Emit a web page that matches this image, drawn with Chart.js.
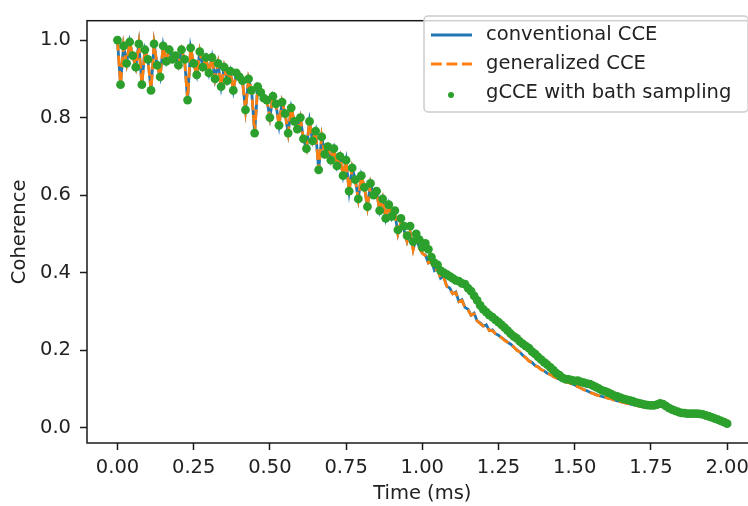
<!DOCTYPE html>
<html>
<head>
<meta charset="utf-8">
<script src="https://cdn.jsdelivr.net/npm/chart.js@4.4.1/dist/chart.umd.min.js"></script>
<style>
  html, body { margin: 0; padding: 0; background: #fff; overflow: hidden; }
  #wrap { width: 762px; height: 506px; }
</style>
</head>
<body>
<div id="wrap"><canvas id="chart" width="762" height="506"></canvas></div>
<script>
'use strict';

let times = [
  0.00, 0.01, 0.02, 0.03, 0.04, 0.05, 0.06, 0.07, 0.08, 0.09,
  0.10, 0.11, 0.12, 0.13, 0.14, 0.15, 0.16, 0.17, 0.18, 0.19,
  0.20, 0.21, 0.22, 0.23, 0.24, 0.25, 0.26, 0.27, 0.28, 0.29,
  0.30, 0.31, 0.32, 0.33, 0.34, 0.35, 0.36, 0.37, 0.38, 0.39,
  0.40, 0.41, 0.42, 0.43, 0.44, 0.45, 0.46, 0.47, 0.48, 0.49,
  0.50, 0.51, 0.52, 0.53, 0.54, 0.55, 0.56, 0.57, 0.58, 0.59,
  0.60, 0.61, 0.62, 0.63, 0.64, 0.65, 0.66, 0.67, 0.68, 0.69,
  0.70, 0.71, 0.72, 0.73, 0.74, 0.75, 0.76, 0.77, 0.78, 0.79,
  0.80, 0.81, 0.82, 0.83, 0.84, 0.85, 0.86, 0.87, 0.88, 0.89,
  0.90, 0.91, 0.92, 0.93, 0.94, 0.95, 0.96, 0.97, 0.98, 0.99,
  1.00, 1.01, 1.02, 1.03, 1.04, 1.05, 1.06, 1.07, 1.08, 1.09,
  1.10, 1.11, 1.12, 1.13, 1.14, 1.15, 1.16, 1.17, 1.18, 1.19,
  1.20, 1.21, 1.22, 1.23, 1.24, 1.25, 1.26, 1.27, 1.28, 1.29,
  1.30, 1.31, 1.32, 1.33, 1.34, 1.35, 1.36, 1.37, 1.38, 1.39,
  1.40, 1.41, 1.42, 1.43, 1.44, 1.45, 1.46, 1.47, 1.48, 1.49,
  1.50, 1.51, 1.52, 1.53, 1.54, 1.55, 1.56, 1.57, 1.58, 1.59,
  1.60, 1.61, 1.62, 1.63, 1.64, 1.65, 1.66, 1.67, 1.68, 1.69,
  1.70, 1.71, 1.72, 1.73, 1.74, 1.75, 1.76, 1.77, 1.78, 1.79,
  1.80, 1.81, 1.82, 1.83, 1.84, 1.85, 1.86, 1.87, 1.88, 1.89,
  1.90, 1.91, 1.92, 1.93, 1.94, 1.95, 1.96, 1.97, 1.98, 1.99,
  2.00
];

let conventionalCCE = [
  1.000, 0.885, 0.985, 0.940, 0.995, 0.960, 0.930, 0.990, 0.885, 0.975,
  0.950, 0.870, 0.990, 0.935, 0.905, 0.985, 0.945, 0.975, 0.950, 0.960,
  0.935, 0.975, 0.950, 0.845, 0.980, 0.940, 0.910, 0.970, 0.930, 0.955,
  0.915, 0.955, 0.900, 0.940, 0.880, 0.930, 0.895, 0.920, 0.870, 0.915,
  0.905, 0.895, 0.820, 0.900, 0.870, 0.760, 0.880, 0.865, 0.850, 0.845,
  0.800, 0.855, 0.835, 0.780, 0.840, 0.810, 0.760, 0.825, 0.790, 0.770,
  0.800, 0.745, 0.720, 0.790, 0.740, 0.765, 0.665, 0.750, 0.705, 0.725,
  0.690, 0.720, 0.675, 0.700, 0.650, 0.690, 0.610, 0.670, 0.640, 0.590,
  0.650, 0.620, 0.570, 0.630, 0.600, 0.610, 0.560, 0.590, 0.540, 0.575,
  0.540, 0.555, 0.500, 0.530, 0.510, 0.480, 0.505, 0.460, 0.490, 0.465,
  0.450, 0.445, 0.425, 0.430, 0.405, 0.410, 0.385, 0.390, 0.365, 0.360,
  0.345, 0.350, 0.325, 0.330, 0.310, 0.305, 0.290, 0.295, 0.275, 0.270,
  0.262, 0.265, 0.250, 0.252, 0.242, 0.238, 0.232, 0.226, 0.220, 0.215,
  0.208, 0.200, 0.195, 0.186, 0.180, 0.172, 0.168, 0.160, 0.156, 0.150,
  0.146, 0.140, 0.137, 0.132, 0.128, 0.125, 0.122, 0.118, 0.116, 0.113,
  0.110, 0.106, 0.102, 0.098, 0.095, 0.091, 0.088, 0.085, 0.082, 0.080,
  0.078, 0.076, 0.074, 0.071, 0.069, 0.067, 0.065, 0.063, 0.061, 0.059,
  0.058, 0.056, 0.054, 0.053, 0.052, 0.052, 0.053, 0.055, 0.057, 0.055,
  0.051, 0.047, 0.043, 0.040, 0.037, 0.035, 0.034, 0.033, 0.033, 0.033,
  0.033, 0.032, 0.031, 0.029, 0.027, 0.024, 0.021, 0.018, 0.015, 0.012,
  0.009
];

let generalizedCCE = [
  1.000, 0.885, 0.985, 0.940, 0.995, 0.960, 0.930, 0.990, 0.885, 0.975,
  0.950, 0.870, 0.990, 0.935, 0.905, 0.985, 0.945, 0.975, 0.950, 0.960,
  0.935, 0.975, 0.950, 0.845, 0.980, 0.940, 0.910, 0.970, 0.930, 0.955,
  0.915, 0.955, 0.900, 0.940, 0.880, 0.930, 0.895, 0.920, 0.870, 0.915,
  0.905, 0.895, 0.820, 0.900, 0.870, 0.760, 0.880, 0.865, 0.850, 0.845,
  0.800, 0.855, 0.835, 0.780, 0.840, 0.810, 0.760, 0.825, 0.790, 0.770,
  0.800, 0.745, 0.720, 0.790, 0.740, 0.765, 0.665, 0.750, 0.705, 0.725,
  0.690, 0.720, 0.675, 0.700, 0.650, 0.690, 0.610, 0.670, 0.640, 0.590,
  0.650, 0.620, 0.570, 0.630, 0.600, 0.610, 0.560, 0.590, 0.540, 0.575,
  0.540, 0.555, 0.500, 0.530, 0.510, 0.480, 0.505, 0.458, 0.490, 0.462,
  0.450, 0.443, 0.425, 0.428, 0.405, 0.408, 0.385, 0.388, 0.365, 0.358,
  0.345, 0.348, 0.325, 0.328, 0.310, 0.303, 0.290, 0.293, 0.275, 0.268,
  0.262, 0.263, 0.250, 0.250, 0.242, 0.236, 0.232, 0.224, 0.220, 0.213,
  0.208, 0.199, 0.195, 0.185, 0.180, 0.171, 0.168, 0.159, 0.156, 0.149,
  0.146, 0.139, 0.137, 0.131, 0.128, 0.124, 0.122, 0.117, 0.116, 0.112,
  0.110, 0.105, 0.102, 0.097, 0.095, 0.090, 0.088, 0.084, 0.082, 0.079,
  0.078, 0.075, 0.074, 0.070, 0.069, 0.066, 0.065, 0.062, 0.061, 0.058,
  0.058, 0.055, 0.054, 0.052, 0.052, 0.051, 0.053, 0.054, 0.057, 0.054,
  0.051, 0.046, 0.043, 0.039, 0.037, 0.034, 0.034, 0.032, 0.033, 0.032,
  0.033, 0.031, 0.031, 0.028, 0.027, 0.023, 0.021, 0.017, 0.015, 0.011,
  0.009
];

let sampledCCE = [
  1.000, 0.885, 0.985, 0.940, 0.995, 0.960, 0.930, 0.990, 0.885, 0.975,
  0.950, 0.870, 0.990, 0.935, 0.905, 0.985, 0.945, 0.975, 0.950, 0.960,
  0.935, 0.975, 0.950, 0.845, 0.980, 0.940, 0.910, 0.970, 0.930, 0.955,
  0.915, 0.955, 0.900, 0.940, 0.880, 0.930, 0.895, 0.920, 0.870, 0.915,
  0.905, 0.895, 0.820, 0.900, 0.870, 0.760, 0.880, 0.865, 0.850, 0.845,
  0.800, 0.855, 0.835, 0.780, 0.840, 0.810, 0.760, 0.825, 0.790, 0.770,
  0.800, 0.745, 0.720, 0.790, 0.740, 0.765, 0.665, 0.750, 0.705, 0.725,
  0.690, 0.720, 0.675, 0.700, 0.650, 0.690, 0.610, 0.670, 0.640, 0.590,
  0.650, 0.620, 0.570, 0.630, 0.600, 0.610, 0.560, 0.590, 0.540, 0.575,
  0.545, 0.560, 0.510, 0.540, 0.520, 0.495, 0.520, 0.480, 0.500, 0.485,
  0.465, 0.475, 0.460, 0.440, 0.425, 0.420, 0.405, 0.400, 0.395, 0.390,
  0.385, 0.380, 0.378, 0.372, 0.370, 0.360, 0.352, 0.340, 0.328, 0.315,
  0.305, 0.298, 0.290, 0.285, 0.278, 0.272, 0.265, 0.258, 0.250, 0.242,
  0.235, 0.230, 0.222, 0.216, 0.210, 0.205, 0.196, 0.190, 0.182, 0.175,
  0.168, 0.162, 0.155, 0.148, 0.140, 0.135, 0.128, 0.125, 0.124, 0.122,
  0.120, 0.121, 0.118, 0.116, 0.113, 0.112, 0.108, 0.104, 0.100, 0.096,
  0.093, 0.090, 0.086, 0.082, 0.080, 0.077, 0.074, 0.072, 0.070, 0.068,
  0.065, 0.063, 0.061, 0.059, 0.058, 0.057, 0.057, 0.059, 0.062, 0.060,
  0.055, 0.050, 0.046, 0.043, 0.040, 0.038, 0.037, 0.036, 0.036, 0.036,
  0.036, 0.035, 0.034, 0.031, 0.029, 0.026, 0.023, 0.020, 0.017, 0.014,
  0.010
];

let xTicks = [0, 0.25, 0.5, 0.75, 1.0, 1.25, 1.5, 1.75, 2.0];
let yTicks = [0, 0.2, 0.4, 0.6, 0.8, 1.0];

let seriesNames = ['conventional CCE', 'generalized CCE', 'gCCE with bath sampling'];

const FONT = 19.5;
const TEXT = '#222222';

Chart.defaults.font.family = "'DejaVu Sans', sans-serif";
Chart.defaults.font.size = FONT;
Chart.defaults.color = TEXT;

function toPoints(values) {
  let pts = [];
  for (let i = 0; i < values.length; i++) {
    pts.push({ x: times[i], y: values[i] });
  }
  return pts;
}

// matplotlib style box around the axes
let framePlugin = {
  id: 'frame',
  afterDatasetsDraw(chart) {
    let a = chart.chartArea;
    let ctx = chart.ctx;
    ctx.save();
    ctx.strokeStyle = '#1a1a1a';
    ctx.lineWidth = 1.5;
    ctx.strokeRect(a.left, a.top, a.right - a.left, a.bottom - a.top);
    ctx.restore();
  }
};

// legend in the upper right corner of the axes
let legendPlugin = {
  id: 'boxLegend',
  afterDraw(chart) {
    let a = chart.chartArea;
    let ctx = chart.ctx;
    let ds = chart.data.datasets;
    let left = 424, top = 16;
    let right = a.right - 9.5, bottom = 112;
    ctx.save();
    ctx.fillStyle = 'rgba(255,255,255,0.8)';
    ctx.strokeStyle = '#cccccc';
    ctx.lineWidth = 1.5;
    ctx.beginPath();
    ctx.roundRect(left, top, right - left, bottom - top, 4);
    ctx.fill();
    ctx.stroke();

    ctx.font = FONT + "px 'DejaVu Sans'";
    ctx.textBaseline = 'middle';
    ctx.fillStyle = TEXT;
    for (let i = 0; i < ds.length; i++) {
      let y = 35 + i * 29;
      let d = ds[i];
      if (d.showLine === false) {
        ctx.fillStyle = d.pointBackgroundColor;
        ctx.beginPath();
        ctx.arc(451, y + 2, 3, 0, Math.PI * 2);
        ctx.fill();
      } else {
        ctx.strokeStyle = d.borderColor;
        ctx.lineWidth = d.borderWidth;
        ctx.setLineDash(d.borderDash || []);
        ctx.beginPath();
        ctx.moveTo(431, y);
        ctx.lineTo(472, y);
        ctx.stroke();
        ctx.setLineDash([]);
      }
      ctx.fillStyle = TEXT;
      ctx.fillText(d.label, 486, y);
    }
    ctx.restore();
  }
};

let chartData = {
  type: 'line',
  data: {
    datasets: [{
      label: seriesNames[0],
      data: toPoints(conventionalCCE),
      borderColor: '#1f77b4',
      borderWidth: 2.8,
      pointRadius: 0,
      tension: 0,
      order: 3
    }, {
      label: seriesNames[1],
      data: toPoints(generalizedCCE),
      borderColor: '#ff7f0e',
      borderWidth: 2.8,
      borderDash: [10.8, 4.7],
      pointRadius: 0,
      tension: 0,
      order: 2
    }, {
      label: seriesNames[2],
      data: toPoints(sampledCCE),
      showLine: false,
      pointRadius: 4.4,
      pointBorderWidth: 0,
      pointBackgroundColor: '#2ca02c',
      pointBorderColor: '#2ca02c',
      order: 1
    }]
  },
  options: {
    responsive: false,
    animation: false,
    devicePixelRatio: 1,
    layout: {
      padding: { left: 0, top: 7, right: 3, bottom: 0 }
    },
    plugins: {
      legend: { display: false },
      tooltip: { enabled: false }
    },
    scales: {
      x: {
        type: 'linear',
        min: -0.1,
        max: 2.1,
        afterBuildTicks(scale) {
          scale.ticks = xTicks.map(v => ({ value: v }));
        },
        afterFit(scale) {
          scale.height = 63;
        },
        ticks: {
          autoSkip: false,
          maxRotation: 0,
          padding: 6,
          callback: v => v.toFixed(2)
        },
        grid: {
          drawOnChartArea: false,
          drawTicks: true,
          tickLength: 7,
          tickWidth: 1.5,
          color: '#1a1a1a'
        },
        border: { display: false },
        title: {
          display: true,
          text: 'Time (ms)',
          padding: { top: 0, bottom: 0 }
        }
      },
      y: {
        min: -0.04,
        max: 1.05,
        afterBuildTicks(scale) {
          scale.ticks = yTicks.map(v => ({ value: v }));
        },
        afterFit(scale) {
          scale.width = 87;
        },
        ticks: {
          autoSkip: false,
          padding: 9,
          callback: v => v.toFixed(1)
        },
        grid: {
          drawOnChartArea: false,
          drawTicks: true,
          tickLength: 7,
          tickWidth: 1.5,
          color: '#1a1a1a'
        },
        border: { display: false },
        title: {
          display: true,
          text: 'Coherence',
          padding: { top: 8, bottom: 0 }
        }
      }
    }
  },
  plugins: [framePlugin, legendPlugin]
};

let ctx = document.getElementById('chart');
new Chart(ctx, chartData);
</script>
</body>
</html>
